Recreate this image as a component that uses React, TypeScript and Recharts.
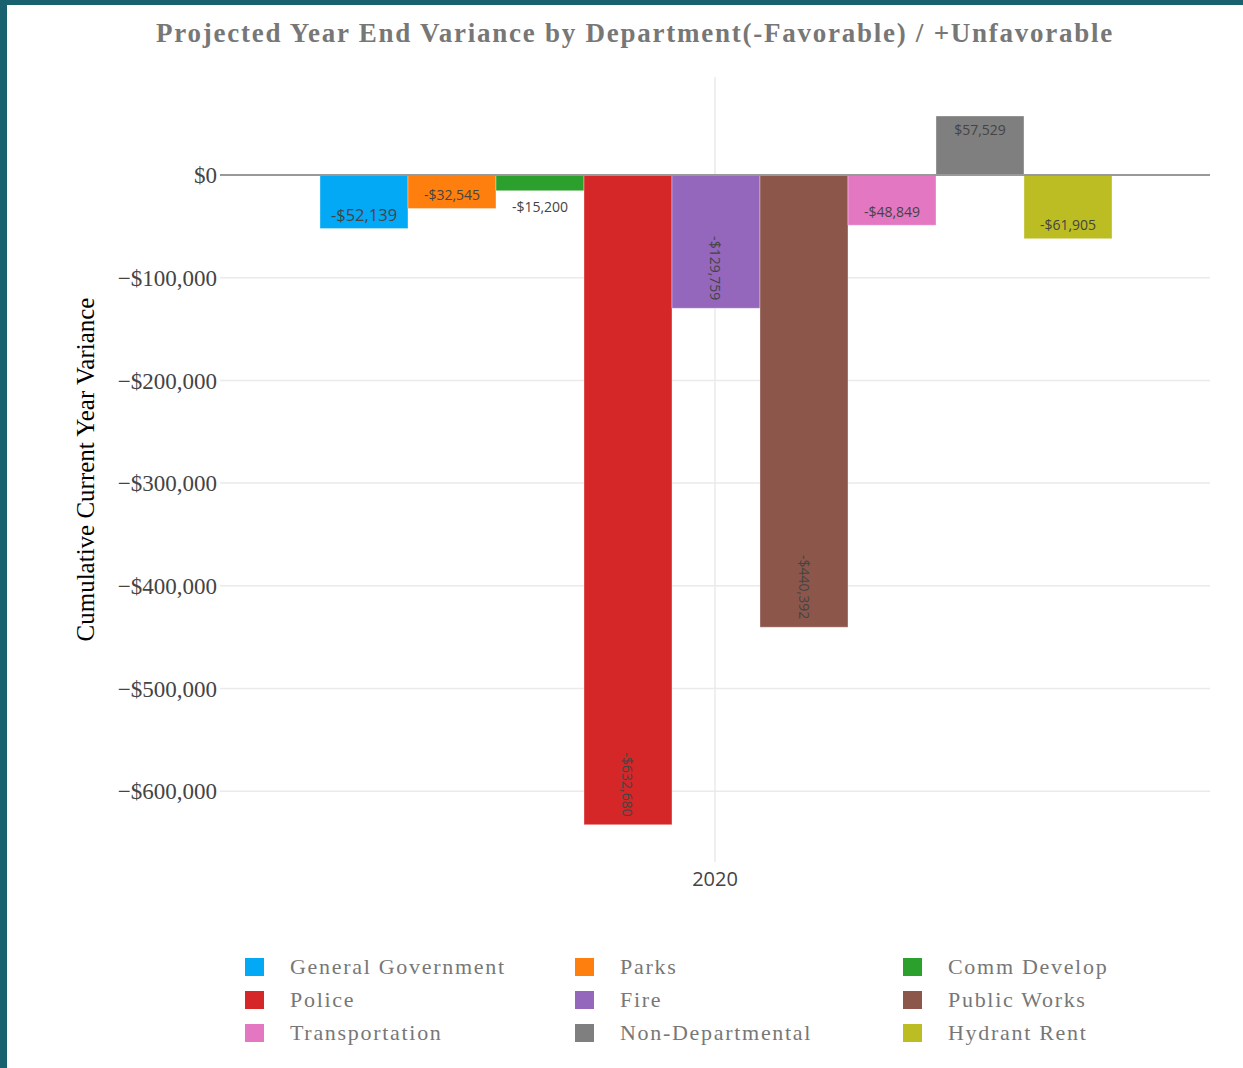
import React from 'react';
import { Bar, BarChart, CartesianGrid, LabelList, ReferenceLine, XAxis, YAxis } from 'recharts';

const YEARS = ['2020'];

const DEPARTMENTS = [
  'General Government',
  'Parks',
  'Comm Develop',
  'Police',
  'Fire',
  'Public Works',
  'Transportation',
  'Non-Departmental',
  'Hydrant Rent',
];

// projected year end variance for 2020, one value per department
const VARIANCE_2020 = [-52139, -32545, -15200, -632680, -129759, -440392, -48849, 57529, -61905];

const Y_TICKS = [0, -100000, -200000, -300000, -400000, -500000, -600000];

const DEPT_COLORS: Record<string, string> = {
  'General Government': '#03a9f4',
  Parks: '#ff7f0e',
  'Comm Develop': '#2ca02c',
  Police: '#d62728',
  Fire: '#9467bd',
  'Public Works': '#8c564b',
  Transportation: '#e377c2',
  'Non-Departmental': '#7f7f7f',
  'Hydrant Rent': '#bcbd22',
};

const data = YEARS.map((year) => {
  const row: Record<string, string | number> = { year };
  DEPARTMENTS.forEach((dept, i) => {
    row[dept] = VARIANCE_2020[i];
  });
  return row;
});

const SERIF = '"Liberation Serif", "Times New Roman", serif';
const SANS = '"Open Sans", "Noto Sans", sans-serif';

function formatTick(v: number): string {
  if (v === 0) return '$0';
  const s = '$' + Math.abs(v).toLocaleString('en-US');
  return v < 0 ? '\u2212' + s : s;
}

function formatValue(v: number): string {
  const s = '$' + Math.abs(v).toLocaleString('en-US');
  return v < 0 ? '-' + s : s;
}

function makeLabel(fontSize: number) {
  return function BarValueLabel(props: any) {
    const { x, y, width, height, value } = props;
    const v = Number(value);
    const text = formatValue(v);
    const cx = Number(x) + Number(width) / 2;
    const top = Math.min(Number(y), Number(y) + Number(height));
    const bottom = Math.max(Number(y), Number(y) + Number(height));
    const h = bottom - top;
    const common = {
      fill: '#444',
      fontFamily: SANS,
      fontSize,
      textAnchor: 'middle' as const,
      dominantBaseline: 'central' as const,
    };

    // too short to hold the text: put it just past the bar end
    if (h < 22) {
      return (
        <text {...common} x={cx} y={v < 0 ? bottom + 16 : top - 16}>
          {text}
        </text>
      );
    }
    // tall bars get the text turned along the bar, ending near its tip
    if (h > 100) {
      const ey = v < 0 ? bottom - 8 : top + 8;
      return (
        <text
          {...common}
          textAnchor={v < 0 ? 'end' : 'start'}
          x={cx}
          y={ey}
          transform={`rotate(90, ${cx}, ${ey})`}
        >
          {text}
        </text>
      );
    }
    return (
      <text {...common} x={cx} y={v < 0 ? bottom - 14 : top + 14}>
        {text}
      </text>
    );
  };
}

function YAxisTitle(props: any) {
  const { viewBox } = props;
  const x = viewBox.x + 25;
  const y = viewBox.y + viewBox.height / 2;
  return (
    <text
      x={x}
      y={y}
      transform={`rotate(-90, ${x}, ${y})`}
      textAnchor="middle"
      dominantBaseline="central"
      fill="#000"
      fontFamily={SERIF}
      fontSize={25}
    >
      Cumulative Current Year Variance
    </text>
  );
}

export default function App() {
  return (
    <div
      style={{
        position: 'absolute',
        left: 0,
        top: 0,
        width: 1243,
        height: 1068,
        background: '#fff',
        overflow: 'hidden',
      }}
    >
      <div style={{ position: 'absolute', left: 0, top: 0, width: 1243, height: 5, background: '#19616f' }} />
      <div style={{ position: 'absolute', left: 0, top: 0, width: 7, height: 1068, background: '#19616f' }} />

      <div
        style={{
          position: 'absolute',
          left: 17,
          width: 1236,
          top: 18,
          textAlign: 'center',
          fontFamily: SERIF,
          fontWeight: 'bold',
          fontSize: 27,
          color: '#777',
          letterSpacing: 1.75,
          whiteSpace: 'nowrap',
        }}
      >
        Projected Year End Variance by Department(-Favorable) / +Unfavorable
      </div>

      <div style={{ position: 'absolute', left: 0, top: 0 }}>
        <BarChart
          width={1243}
          height={1068}
          data={data}
          margin={{ top: 77, right: 33, left: 60, bottom: 166 }}
          barCategoryGap="10.1%"
          barGap={0}
        >
          <CartesianGrid stroke="#eaeaea" strokeWidth={1.5} syncWithTicks />
          <XAxis
            dataKey="year"
            height={40}
            axisLine={false}
            tickLine={false}
            tickSize={6}
            tickMargin={4}
            tick={{ fill: '#444', fontSize: 20, fontFamily: SANS }}
          />
          <YAxis
            width={160}
            domain={[-669000, 95500]}
            ticks={Y_TICKS}
            interval={0}
            axisLine={false}
            tickLine={false}
            tickSize={0}
            tickMargin={3}
            tickFormatter={formatTick}
            tick={{ fill: '#444', fontSize: 23, fontFamily: SERIF }}
            label={<YAxisTitle />}
          />
          <ReferenceLine y={0} stroke="#999" strokeWidth={2} />
          {DEPARTMENTS.map((dept) => (
            <Bar
              key={dept}
              dataKey={dept}
              name={dept}
              fill={DEPT_COLORS[dept]}
              stroke="rgba(255,255,255,0.35)"
              strokeWidth={1}
              isAnimationActive={false}
            >
              <LabelList dataKey={dept} content={makeLabel(dept === 'General Government' ? 16.5 : 14)} />
            </Bar>
          ))}
        </BarChart>
      </div>

      <div
        style={{
          position: 'absolute',
          left: 245,
          top: 956,
          display: 'grid',
          gridTemplateColumns: '330px 328px 300px',
          rowGap: 11,
          fontFamily: SERIF,
          fontSize: 22,
          color: '#777',
        }}
      >
        {DEPARTMENTS.map((dept) => (
          <div key={dept} style={{ display: 'flex', alignItems: 'center', height: 22 }}>
            <span
              style={{
                display: 'inline-block',
                width: 19,
                height: 18,
                background: DEPT_COLORS[dept],
                marginRight: 26,
              }}
            />
            <span style={{ letterSpacing: 1.7, whiteSpace: 'nowrap' }}>{dept}</span>
          </div>
        ))}
      </div>
    </div>
  );
}
